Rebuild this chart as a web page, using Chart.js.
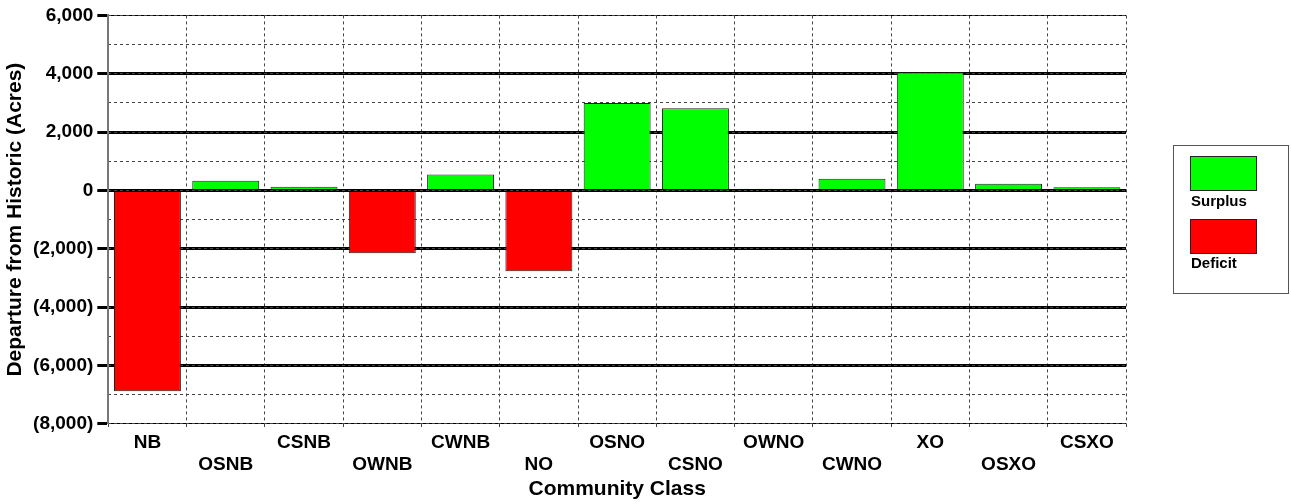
<!DOCTYPE html>
<html>
<head>
<meta charset="utf-8">
<script src="https://cdn.jsdelivr.net/npm/chart.js@4/dist/chart.umd.min.js"></script>
<style>
  html, body { margin: 0; padding: 0; background: #fff; }
  #wrap { position: relative; width: 1291px; height: 504px; }
  .legend { position: absolute; left: 1173px; top: 145px; width: 116px; height: 149px;
    border: 1px solid #555; box-sizing: border-box; font: bold 15px "Liberation Sans", Arial, sans-serif; color: #000; }
  .legend .sw { position: absolute; left: 16px; width: 67px; height: 35px; border: 1px solid #222; box-sizing: border-box; }
  .legend .lb { position: absolute; left: 17px; line-height: 17px; }
</style>
</head>
<body>
<div id="wrap">
  <canvas id="chart"></canvas>
  <div class="legend">
    <div class="sw" style="top:10px;background:#00ff00;"></div>
    <div class="lb" style="top:46px;">Surplus</div>
    <div class="sw" style="top:73px;background:#ff0000;"></div>
    <div class="lb" style="top:108px;">Deficit</div>
  </div>
</div>
<script>
// Departure from historic acreage by community class
const categories = ['NB', 'OSNB', 'CSNB', 'OWNB', 'CWNB', 'NO', 'OSNO', 'CSNO', 'OWNO', 'CWNO', 'XO', 'OSXO', 'CSXO'];
const departure = [-6880, 330, 130, -2150, 550, -2770, 3000, 2820, 60, 400, 4050, 230, 110];
const yMin = -8000;
const yMax = 6000;

const surplus = departure.map(v => v >= 0 ? v : null);
const deficit = departure.map(v => v < 0 ? v : null);

const FONT = '"Liberation Sans", Arial, sans-serif';

function fmt(v) {
  const s = Math.abs(v).toLocaleString('en-US');
  return v < 0 ? '(' + s + ')' : s;
}

new Chart(document.getElementById('chart'), {
  type: 'bar',
  data: {
    labels: categories,
    datasets: [
      { label: 'Surplus', data: surplus, backgroundColor: '#00ff00', borderColor: '#222', borderWidth: 1,
        barPercentage: 0.855, categoryPercentage: 1 },
      { label: 'Deficit', data: deficit, backgroundColor: '#ff0000', borderColor: '#222', borderWidth: 1,
        barPercentage: 0.855, categoryPercentage: 1 }
    ]
  },
  options: {
    responsive: true,
    maintainAspectRatio: false,
    animation: false,
    layout: { padding: { top: 4, right: 165, left: 4, bottom: 3 } },
    plugins: { legend: { display: false }, tooltip: { enabled: false } },
    scales: {
      x: {
        stacked: true,
        grid: { offset: true, color: '#444', lineWidth: 1, tickLength: 6, tickBorderDash: [3, 3], tickColor: '#444' },
        border: { display: false, dash: [3, 3] },
        ticks: {
          autoSkip: false, maxRotation: 0, minRotation: 0, padding: 2, color: '#000',
          font: { family: FONT, size: 19, weight: 'bold', lineHeight: 1.16 },
          callback: (v, i) => i % 2 === 0 ? categories[i] : ['', categories[i]]
        },
        title: { display: true, text: 'Community Class', color: '#000', padding: { top: 0, bottom: 0 },
          font: { family: FONT, size: 21, weight: 'bold', lineHeight: 1.1 } }
      },
      y: {
        stacked: true,
        min: yMin, max: yMax,
        z: 1,
        grid: {
          color: c => (c.tick && c.tick.value % 2000 === 0) ? '#000' : 'rgba(0,0,0,0)',
          lineWidth: c => (c.tick && (c.tick.value === yMin || c.tick.value === yMax)) ? 1 : 3,
          tickLength: 11, tickWidth: 3,
          tickColor: c => (c.tick && c.tick.value % 2000 === 0) ? '#000' : 'rgba(0,0,0,0)'
        },
        border: { display: true, color: '#777', width: 2 },
        ticks: {
          stepSize: 1000, padding: 4, color: '#000',
          font: { family: FONT, size: 19, weight: 'bold' },
          callback: v => v % 2000 === 0 ? fmt(v) : ''
        },
        title: { display: true, text: 'Departure from Historic (Acres)', color: '#000', padding: { top: 0, bottom: 2 },
          font: { family: FONT, size: 21, weight: 'bold', lineHeight: 1.1 } }
      },
      yMinor: {
        position: 'left',
        min: yMin, max: yMax,
        z: 0,
        grid: { color: '#444', lineWidth: 1, drawTicks: false },
        border: { display: false, dash: [3, 3] },
        ticks: { display: false, stepSize: 1000 }
      }
    }
  }
});
</script>
</body>
</html>
